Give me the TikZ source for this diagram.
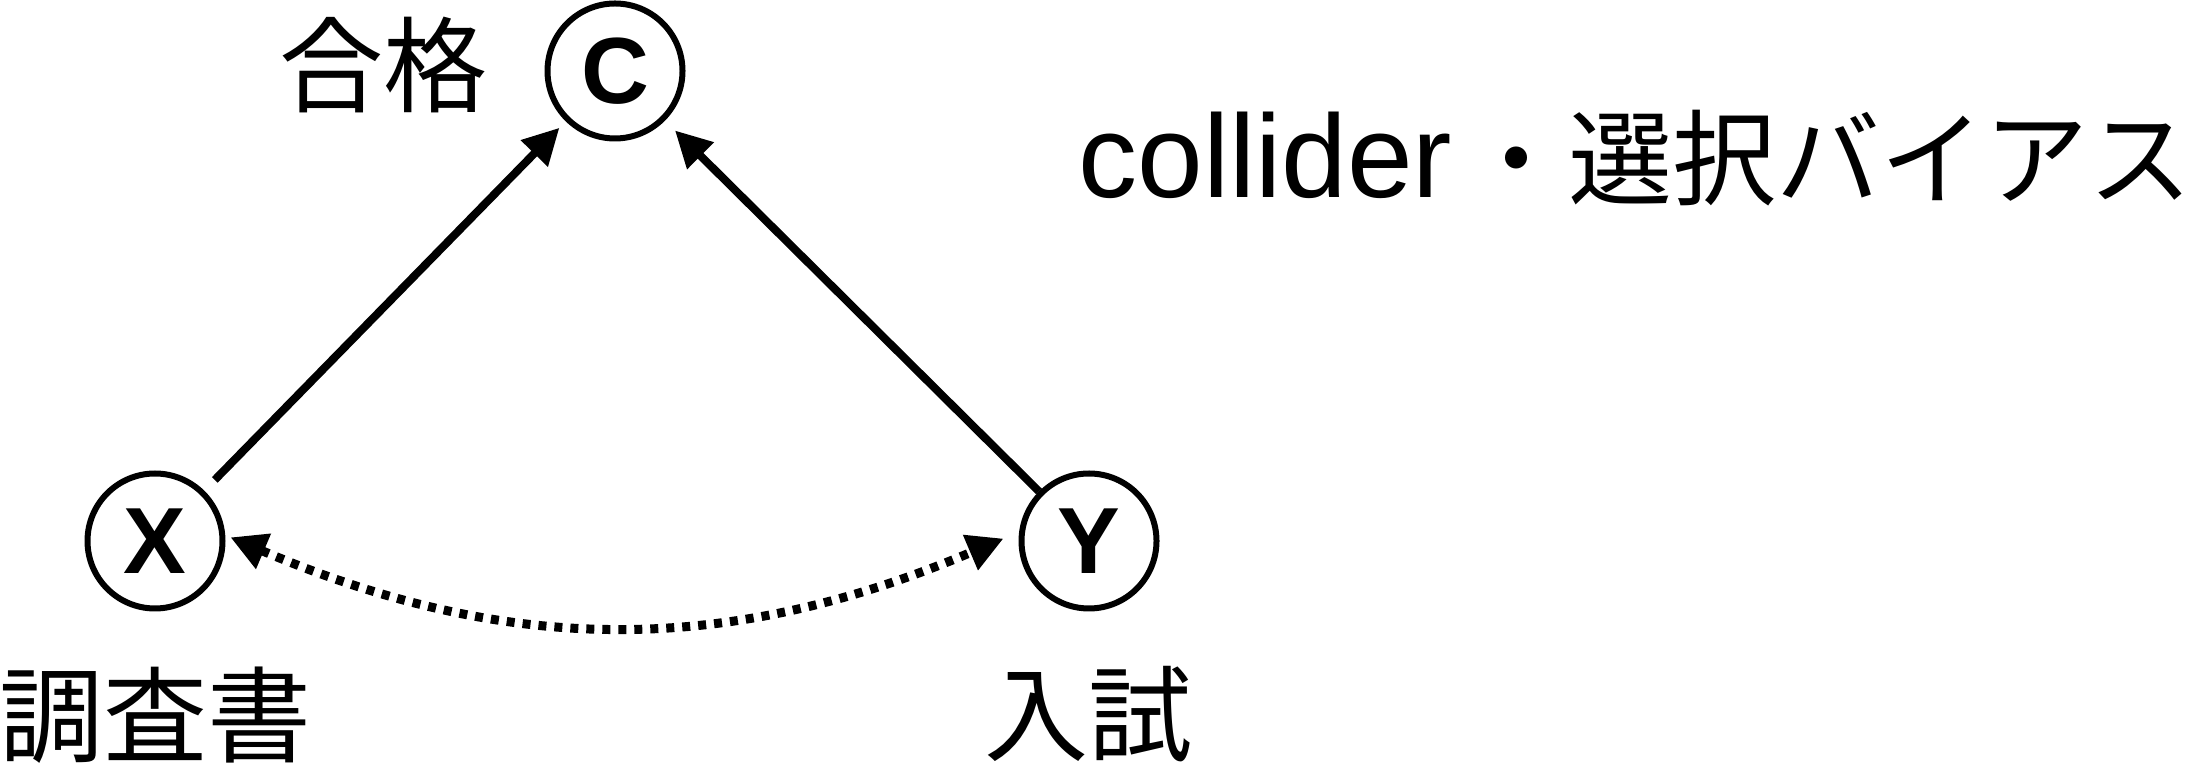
\documentclass[tikz,border=0pt]{standalone}
\usepackage{fontspec}
\usetikzlibrary{arrows.meta}
\newfontfamily\jpfont{Noto Sans CJK JP}
\newfontfamily\latfont{Liberation Sans}
\tikzset{
  var/.style={circle, draw, line width=3pt, minimum size=67.5pt, inner sep=0pt,
    font=\latfont\bfseries\fontsize{47pt}{52pt}\selectfont},
  lbl/.style={inner sep=0pt, font=\jpfont\fontsize{52pt}{60pt}\selectfont},
  cause/.style={line width=4pt, -{Triangle[length=18pt,width=18pt]}},
  assoc/.style={line width=4.5pt, dash pattern=on 4pt off 4pt,
    {Triangle[length=18pt,width=18pt]}-{Triangle[length=18pt,width=18pt]}}
}
\begin{document}
\begin{tikzpicture}[x=0.5pt, y=0.5pt]
  \useasboundingbox (0,0) rectangle (2203,770);

  % variables
  \node[var] (C) at (615,699) {C};
  \node[var] (X) at (155,229) {X};
  \node[var] (Y) at (1089,229) {Y};

  % labels
  \node[lbl] (lc) at (383.5,705.5) {合格};
  \node[lbl] (lx) at (155,55) {調査書};
  \node[lbl] (ly) at (1088.5,56) {入試};
  \node[inner sep=0pt, anchor=base west] (title) at (1078,572)
    {{\latfont\fontsize{59pt}{66pt}\selectfont collider}\kern6pt{\jpfont\fontsize{52pt}{60pt}\selectfont ・選択バイアス}};

  % causal arrows into the collider
  \draw[cause, shorten <=7.5pt, shorten >=4.5pt] (X) -- (C);
  \draw[cause, shorten >=7pt] (Y) -- (C);

  % association between X and Y
  \draw[assoc] ([xshift=2.5pt]X.3) to[out=-23, in=203] ([xshift=-7.5pt]Y.178);
\end{tikzpicture}
\end{document}
